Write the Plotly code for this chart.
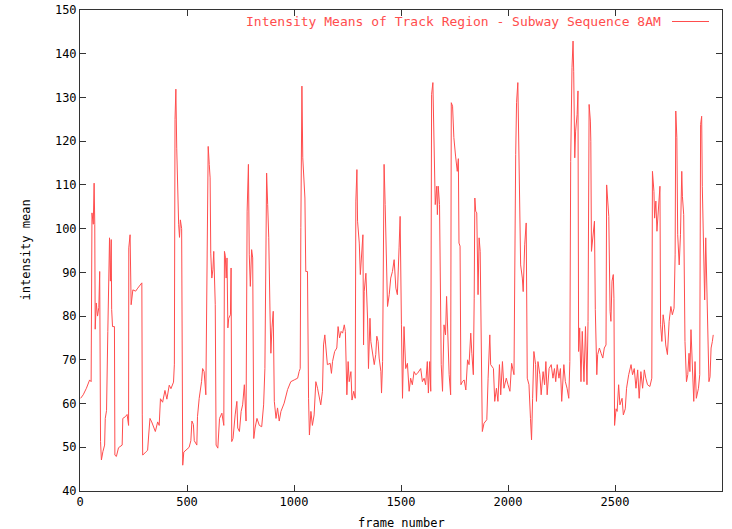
import plotly.graph_objects as go

frames = [3, 15, 30, 45, 52, 56, 62, 66, 69, 71, 76, 82, 88, 92, 96, 100, 107, 115, 118, 124,
          130, 134, 138, 142, 146, 148, 152, 161, 163, 170, 180, 197, 200, 212, 220, 227, 228, 234, 236, 239,
          247, 260, 270, 280, 289, 291, 293, 309, 316, 321, 327, 335, 345, 352, 363, 370, 376, 386, 397, 406,
          417, 425, 437, 441, 444, 448, 452, 456, 461, 465, 469, 475, 478, 480, 485, 495, 510, 518, 523, 530,
          534, 546, 549, 557, 568, 573, 580, 588, 593, 599, 604, 608, 611, 616,
          621, 625, 632, 636, 644, 652, 663, 672, 675, 679, 683, 687, 691, 695, 703, 706, 709, 715, 725, 733,
          737, 745, 753, 760, 768, 776, 781, 787, 791, 796, 802, 807, 812, 818, 827, 838, 849, 858, 864, 869,
          872, 877, 882, 888, 892, 897, 903, 908, 916, 923, 931, 939, 954, 970, 985, 1001, 1017, 1024, 1029, 1032,
          1037, 1041, 1045, 1051, 1055, 1063, 1068, 1072, 1079, 1086, 1094, 1102, 1110, 1117, 1125, 1133, 1138, 1144, 1148, 1156,
          1169, 1175, 1180, 1190, 1200, 1206,
          1213, 1220, 1227, 1235, 1240, 1243, 1247, 1253, 1258, 1266, 1271, 1279, 1286, 1289, 1294, 1297, 1305, 1310, 1316, 1322,
          1325, 1328, 1336, 1344, 1348, 1355, 1359, 1367, 1375, 1382, 1387, 1393, 1398, 1406, 1409, 1414, 1421, 1426, 1431, 1437,
          1445, 1452, 1460, 1468, 1476, 1483, 1491, 1496, 1502, 1507, 1514, 1522, 1530, 1538, 1545, 1553, 1561, 1569, 1577, 1584,
          1592, 1600, 1608, 1615, 1623, 1628, 1634, 1639, 1643, 1649, 1654, 1660, 1667, 1670, 1674, 1680, 1688, 1694, 1701, 1708,
          1713, 1719, 1725, 1732, 1735, 1741, 1747, 1755, 1763, 1768,
          1771, 1776, 1780, 1787, 1795, 1803, 1811, 1818, 1826, 1831, 1838, 1842, 1845, 1849, 1854, 1860, 1865, 1870, 1876, 1880,
          1888, 1901, 1907, 1915, 1919, 1932, 1938, 1946, 1953, 1960, 1966, 1974, 1981, 1992, 2000, 2009, 2017, 2028, 2036, 2040,
          2046, 2050, 2054, 2059, 2067, 2071, 2078, 2085, 2090, 2098, 2105, 2110, 2115, 2121, 2129, 2133, 2140, 2149, 2155, 2164,
          2171, 2177, 2183, 2192, 2202, 2210, 2217, 2223, 2230, 2238, 2245, 2251, 2261, 2268, 2276, 2284, 2289, 2293, 2299, 2304,
          2307, 2312, 2316, 2323, 2327, 2330, 2335, 2341, 2347, 2355, 2362, 2369, 2374, 2379, 2385, 2387, 2390, 2396, 2404, 2408,
          2415, 2419, 2427, 2435, 2443, 2450, 2458, 2461, 2466, 2471, 2477, 2481, 2486, 2492, 2495, 2498, 2505, 2510, 2517, 2523,
          2533, 2539, 2548, 2554, 2564, 2575, 2582, 2590, 2598, 2606, 2613, 2621, 2629, 2637, 2644, 2652, 2663, 2672, 2675, 2682,
          2685, 2691, 2696, 2703, 2710, 2713, 2719, 2725, 2731, 2737, 2745, 2753, 2761, 2768, 2776, 2781, 2784, 2789, 2793, 2800,
          2806, 2812, 2815, 2821, 2827, 2834, 2840, 2846, 2850, 2855, 2861, 2868, 2874, 2880, 2890, 2896, 2900, 2905, 2908, 2913,
          2919, 2924, 2928, 2935, 2939, 2944, 2949, 2955, 2959]

intensity = [61.2, 62, 63.5, 65.4, 65, 103.6, 101, 110.4, 101, 77, 83, 80, 82, 90.2, 51.3, 47.1, 49, 50.5, 56.6, 58.4,
             76.5, 92, 97.9, 88, 97.5, 81.5, 77.6, 77.6, 48.2, 47.9, 49.9, 50.5, 56.6, 57, 57.5, 55, 95.6, 98.6, 84.9, 82.6,
             86, 85.7, 86.4, 87, 87.6, 57.4, 48.2, 49, 49.3, 52.8, 56.6, 55.8, 54.3, 53.6, 55.8, 55, 61.1, 60.3, 63, 61,
             64.2, 63.4, 64.9, 69, 125, 131.9, 118.4, 109.7, 101, 98, 102, 100, 60, 45.9, 48.9, 49.3, 50, 51.5, 56, 55.2,
             51.5, 50.5, 57, 61.2, 65, 68, 67.3, 62, 97.9, 118.8, 114.7, 111.6, 94.4, 88.7,
             90.6, 94.8, 82.6, 50.5, 49.8, 56.6, 57.8, 55, 94.8, 93.8, 88.7, 93.3, 77.3, 79.5, 80.3, 91, 51.3, 52, 57.4, 60.5,
             54.4, 53.6, 58.2, 59.7, 64.3, 56, 104, 114.7, 94, 86.8, 95.2, 93.3, 52, 54.4, 56.6, 55, 54.7, 59.7, 68, 94,
             112.7, 105.5, 97.9, 80.7, 71.5, 77.3, 81.1, 60.5, 56.6, 59, 56, 58.2, 60.1, 63.2, 65, 65.4, 65.8, 67.3, 68, 100.2,
             132.6, 116.2, 111.6, 107, 90.2, 90.2, 61.2, 52.8, 58.2, 55, 57.4, 65, 63.5, 62, 59.7, 62.8, 73.4, 75.7, 73.4, 68.9,
             69.2, 66.9, 69.6, 71.9, 72.7, 77.6,
             75, 76.5, 76.1, 78, 76.5, 66.6, 62, 69.6, 65, 67.3, 60.8, 62.8, 61.2, 106.3, 113.5, 101.7, 96.7, 89.5, 94.8, 98.6,
             73.4, 85.6, 89.8, 79.1, 68, 79.5, 74.2, 71.9, 68.9, 71.2, 75.4, 74.2, 70.4, 67.3, 62.4, 69.6, 114.7, 105.5, 94.8, 82.2,
             84.9, 88.7, 90.2, 92.9, 86.4, 84.9, 95.6, 102.8, 78, 61.2, 77.6, 68, 69.2, 62.8, 65.8, 64.3, 67.3, 66.6, 66.9, 67.3,
             68, 65, 65.8, 64.3, 69.6, 62.4, 69.6, 62.8, 130.7, 133.4, 122.3, 105.5, 109.7, 103.2, 109.7, 105.5, 68.9, 62.8, 78, 75.7,
             84.5, 74.9, 66.6, 62, 128.8, 128, 120.8, 116.6, 113.1, 116,
             96.7, 96, 64.3, 65, 65.4, 63.1, 70, 68.9, 76.1, 71.5, 66.6, 84.1, 107, 104, 103.6, 84.9, 97.9, 94.8, 58.2, 53.6,
             55.5, 56.3, 65.8, 75.7, 68.9, 68, 60.5, 63.5, 60.5, 68.9, 62, 69.6, 63.5, 65.8, 64.3, 62.8, 69.2, 66.6, 117, 128.8,
             133.4, 118.5, 99.4, 91.7, 88.7, 85.6, 96.3, 101.3, 65.8, 64.3, 56.6, 51.7, 61.2, 71.9, 68.9, 60.5, 69.6, 66.6, 62, 67.3,
             64.3, 69.6, 62, 68, 68.9, 65.8, 68, 65, 68.9, 65.8, 68, 60.5, 68.9, 65, 63.5, 61.2, 69.6, 115.4, 136.8, 142.9,
             136, 116.2, 122.3, 126.1, 131.5, 71.9, 77.3, 65, 76.5, 65, 77.6, 64.3, 78.8, 128.4, 124.6, 120, 94.8, 97.9, 101.7, 81.5,
             66.6, 71.2, 72.7, 71.5, 70.4, 72.7, 73.4, 110, 107, 102.8, 81.1, 78.8, 88, 89.5, 84.1, 55, 58.8, 58.2, 64.3, 59.7,
             61.2, 57.4, 58.8, 63.5, 66.6, 68.9, 66.6, 68, 63.5, 67.7, 61.2, 67.3, 63.5, 67.7, 65.8, 64.3, 63.9, 65.8, 113.1, 108.5,
             102.4, 106.3, 99.4, 105.5, 109.7, 78, 74.2, 80.3, 78, 73.4, 71.2, 78.8, 82.2, 80.3, 81.8, 94, 126.9, 120.8, 98.6, 91.7,
             98.6, 113.1, 107.4, 103.2, 74.2, 65, 66.6, 71.5, 67.3, 76.9, 67.3, 60.5, 69.6, 61.2, 63.5, 66.6, 123.8, 125.7, 109.7, 98.6,
             83.7, 97.9, 88.7, 78, 65, 66.1, 72.7, 74.2, 75.7]

x_ticks = [0, 500, 1000, 1500, 2000, 2500, 3000]
y_ticks = [40, 50, 60, 70, 80, 90, 100, 110, 120, 130, 140, 150]
series_name = "Intensity Means of Track Region - Subway Sequence 8AM"

RED = "#ff4d4d"
FONT = dict(family="DejaVu Sans Mono", size=12, color="#000000")

fig = go.Figure()
fig.add_trace(go.Scatter(x=frames, y=intensity, mode="lines",
                         line=dict(color=RED, width=1), name=series_name,
                         showlegend=False, hoverinfo="skip"))

axis_common = dict(showline=True, mirror="allticks", ticks="inside", ticklen=6,
                   tickcolor="#333333", linecolor="#333333", linewidth=1,
                   showgrid=False, zeroline=False, tickfont=FONT, automargin=False)

fig.update_layout(
    width=732, height=529,
    margin=dict(l=80, r=10, t=10, b=38, autoexpand=False),
    paper_bgcolor="white", plot_bgcolor="white",
    font=FONT,
    hovermode=False,
    xaxis=dict(range=[0, 3000], tickvals=x_ticks, ticktext=[str(v) for v in x_ticks], **axis_common),
    yaxis=dict(range=[40, 150], tickvals=y_ticks, ticktext=[str(v) for v in y_ticks], **axis_common),
    annotations=[
        dict(text="frame number", xref="paper", yref="paper", x=0.5, y=0,
             xanchor="center", yanchor="top", yshift=-23, showarrow=False, font=FONT),
        dict(text="intensity mean", xref="paper", yref="paper", x=0, y=0.5,
             xanchor="right", yanchor="middle", xshift=-46, textangle=-90, showarrow=False, font=FONT),
        dict(text=series_name, xref="paper", yref="paper", x=(663 - 80) / 642, y=(491 - 21.5) / 481,
             xanchor="right", yanchor="middle", showarrow=False,
             font=dict(family="DejaVu Sans Mono", size=13, color=RED)),
    ],
    shapes=[
        dict(type="line", xref="paper", yref="paper",
             x0=(672 - 80) / 642, x1=(709 - 80) / 642,
             y0=(491 - 21.5) / 481, y1=(491 - 21.5) / 481,
             line=dict(color=RED, width=1)),
    ],
)

fig.write_html("out.html", config={"displayModeBar": False, "staticPlot": True},
               post_script="document.body.style.margin='0';document.body.style.overflow='hidden';")
